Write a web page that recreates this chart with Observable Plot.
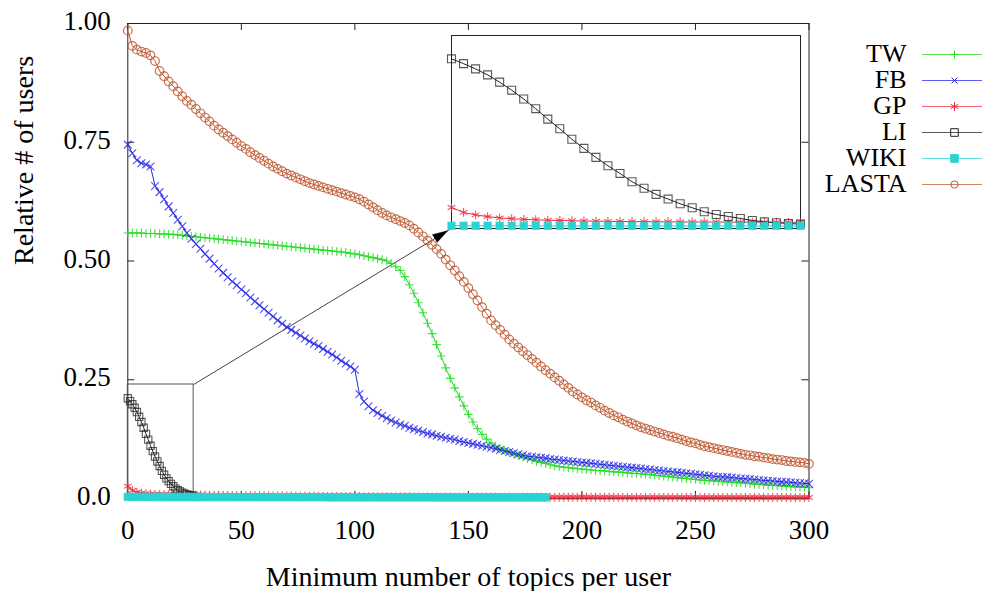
<!DOCTYPE html>
<html>
<head>
<meta charset="utf-8">
<script src="https://cdn.jsdelivr.net/npm/d3@7"></script>
<script src="https://cdn.jsdelivr.net/npm/@observablehq/plot@0.6"></script>
<style>
  body { margin: 0; background: #fff; }
  #wrap { position: relative; width: 982px; height: 591px; overflow: hidden; background: #fff; }
  #wrap svg { position: absolute; overflow: visible; font-family: "Liberation Serif", "DejaVu Serif", "Liberation Sans", serif !important; }
  #wrap svg text, #wrap svg g { font-family: "Liberation Serif", "DejaVu Serif", "Liberation Sans", serif !important; }
</style>
</head>
<body>
<div id="wrap"></div>
<script>
// ---------------- data ----------------
const seriesNames = ["TW", "FB", "GP", "LI", "WIKI", "LASTA"];
const xTicks = [0, 50, 100, 150, 200, 250, 300];
const yTicks = [0, 0.25, 0.5, 0.75, 1];

// main series sampled every STEP topics (x = 0, 2, ..., 300)
const STEP = 2;
const lastaValues = [
  0.985,0.953,0.945,0.941,0.938,0.933,0.921,0.900,0.889,0.878,
  0.868,0.857,0.847,0.837,0.829,0.820,0.811,0.802,0.794,0.785,
  0.777,0.770,0.763,0.756,0.749,0.742,0.736,0.729,0.723,0.717,
  0.711,0.705,0.699,0.694,0.689,0.684,0.680,0.676,0.672,0.668,
  0.664,0.661,0.658,0.655,0.652,0.649,0.646,0.643,0.640,0.637,
  0.634,0.630,0.625,0.619,0.613,0.607,0.601,0.596,0.592,0.588,
  0.584,0.580,0.575,0.568,0.560,0.552,0.543,0.534,0.525,0.515,
  0.503,0.491,0.480,0.468,0.456,0.443,0.430,0.417,0.403,0.389,
  0.375,0.365,0.355,0.345,0.335,0.326,0.318,0.310,0.302,0.294,
  0.286,0.278,0.270,0.263,0.255,0.248,0.240,0.233,0.225,0.219,
  0.213,0.207,0.202,0.196,0.191,0.185,0.180,0.175,0.171,0.166,
  0.162,0.158,0.154,0.150,0.147,0.144,0.141,0.138,0.135,0.132,
  0.130,0.127,0.124,0.121,0.118,0.116,0.113,0.110,0.108,0.106,
  0.104,0.102,0.100,0.098,0.096,0.094,0.092,0.091,0.089,0.088,
  0.086,0.085,0.083,0.082,0.081,0.079,0.078,0.077,0.076,0.075,
  0.073
];
const fbValues = [
  0.745,0.727,0.712,0.706,0.703,0.699,0.658,0.645,0.630,0.615,
  0.601,0.587,0.573,0.559,0.547,0.536,0.526,0.515,0.505,0.494,
  0.484,0.475,0.466,0.457,0.449,0.440,0.432,0.423,0.415,0.407,
  0.399,0.391,0.383,0.375,0.368,0.361,0.355,0.349,0.343,0.337,
  0.331,0.326,0.321,0.315,0.309,0.303,0.297,0.290,0.284,0.278,
  0.271,0.220,0.204,0.194,0.186,0.180,0.174,0.169,0.164,0.160,
  0.156,0.153,0.149,0.146,0.143,0.140,0.137,0.135,0.132,0.130,
  0.128,0.126,0.124,0.121,0.119,0.117,0.115,0.113,0.111,0.109,
  0.107,0.105,0.102,0.100,0.098,0.096,0.093,0.091,0.089,0.088,
  0.087,0.086,0.085,0.083,0.082,0.081,0.080,0.079,0.078,0.077,
  0.076,0.075,0.074,0.073,0.072,0.071,0.070,0.069,0.068,0.067,
  0.066,0.065,0.064,0.063,0.062,0.061,0.060,0.059,0.058,0.057,
  0.056,0.055,0.054,0.053,0.052,0.051,0.050,0.049,0.048,0.047,
  0.046,0.0455,0.045,0.044,0.043,0.042,0.0415,0.041,0.040,0.039,
  0.038,0.0375,0.037,0.036,0.035,0.0345,0.034,0.033,0.0325,0.032,
  0.031
];
const twValues = [
  0.559,0.559,0.559,0.559,0.558,0.558,0.558,0.557,0.557,0.556,
  0.556,0.555,0.554,0.553,0.552,0.551,0.550,0.549,0.548,0.547,
  0.546,0.545,0.544,0.543,0.542,0.541,0.540,0.539,0.538,0.537,
  0.536,0.535,0.534,0.533,0.532,0.531,0.530,0.529,0.528,0.527,
  0.526,0.525,0.524,0.523,0.522,0.521,0.520,0.519,0.518,0.516,
  0.515,0.513,0.511,0.509,0.507,0.505,0.503,0.500,0.495,0.488,
  0.480,0.467,0.450,0.432,0.412,0.391,0.369,0.347,0.324,0.300,
  0.275,0.253,0.233,0.214,0.195,0.177,0.161,0.147,0.135,0.125,
  0.117,0.110,0.105,0.101,0.097,0.093,0.090,0.087,0.084,0.081,
  0.078,0.076,0.074,0.071,0.069,0.067,0.066,0.065,0.064,0.063,
  0.062,0.061,0.060,0.059,0.0585,0.058,0.057,0.056,0.0555,0.055,
  0.054,0.053,0.0525,0.052,0.051,0.050,0.049,0.048,0.047,0.046,
  0.045,0.044,0.043,0.042,0.041,0.040,0.039,0.038,0.0375,0.037,
  0.036,0.0355,0.035,0.034,0.0335,0.033,0.032,0.031,0.030,0.0295,
  0.029,0.028,0.0275,0.027,0.0265,0.026,0.025,0.0245,0.024,0.0235,
  0.023
];
const gpValues = [
  0.0260,0.0170,0.0132,0.0114,0.0103,0.0096,0.0091,0.0087,0.0085,0.0083,
  0.0081,0.0080,0.0079,0.0078,0.0077,0.0075,0.0074,0.0072,0.0071,0.0069,
  0.0068,0.0067,0.0065,0.0064,0.0063,0.0062,0.0061,0.0060,0.0059,0.0058,
  0.0057,0.0056,0.0055,0.0054,0.0053,0.0052,0.0051,0.0050,0.0050,0.0049,
  0.0048,0.0047,0.0047,0.0046,0.0045,0.0045,0.0044,0.0043,0.0043,0.0042,
  0.0042,0.0041,0.0040,0.0040,0.0039,0.0039,0.0038,0.0038,0.0037,0.0037,
  0.0036,0.0036,0.0036,0.0035,0.0035,0.0034,0.0034,0.0034,0.0033,0.0033,
  0.0033,0.0032,0.0032,0.0032,0.0031,0.0031,0.0031,0.0031,0.0030,0.0030,
  0.0030,0.0030,0.0029,0.0029,0.0029,0.0029,0.0028,0.0028,0.0028,0.0028,
  0.0028,0.0027,0.0027,0.0027,0.0027,0.0027,0.0026,0.0026,0.0026,0.0026,
  0.0026,0.0026,0.0025,0.0025,0.0025,0.0025,0.0025,0.0025,0.0024,0.0024,
  0.0024,0.0024,0.0024,0.0024,0.0024,0.0023,0.0023,0.0023,0.0023,0.0023,
  0.0023,0.0023,0.0023,0.0022,0.0022,0.0022,0.0022,0.0022,0.0022,0.0022,
  0.0022,0.0022,0.0022,0.0021,0.0021,0.0021,0.0021,0.0021,0.0021,0.0021,
  0.0021,0.0021,0.0021,0.0021,0.0020,0.0020,0.0020,0.0020,0.0020,0.0020,
  0.0020
];
const wikiValues = [ // x = 0 .. 184
  0.0034,0.0034,0.0033,0.0033,0.0033,0.0033,0.0032,0.0032,0.0032,0.0032,
  0.0032,0.0031,0.0031,0.0031,0.0031,0.0031,0.0031,0.0030,0.0030,0.0030,
  0.0030,0.0030,0.0030,0.0030,0.0029,0.0029,0.0029,0.0029,0.0029,0.0029,
  0.0029,0.0029,0.0029,0.0028,0.0028,0.0028,0.0028,0.0028,0.0028,0.0028,
  0.0028,0.0028,0.0028,0.0028,0.0027,0.0027,0.0027,0.0027,0.0027,0.0027,
  0.0027,0.0027,0.0027,0.0027,0.0027,0.0027,0.0026,0.0026,0.0026,0.0026,
  0.0026,0.0026,0.0026,0.0026,0.0026,0.0026,0.0026,0.0026,0.0026,0.0026,
  0.0025,0.0025,0.0025,0.0025,0.0025,0.0025,0.0025,0.0025,0.0025,0.0025,
  0.0025,0.0025,0.0025,0.0025,0.0025,0.0025,0.0025,0.0025,0.0025,0.0025,
  0.0025,0.0025,0.0025
];
// zoomed inset, one value per topic count (x = 0 .. 29)
const liValues = [
  0.211,0.205,0.1985,0.191,0.182,0.172,0.161,0.149,0.136,0.124,
  0.111,0.0996,0.0884,0.078,0.0685,0.0582,0.050,0.0424,0.0366,0.0308,
  0.0258,0.0208,0.0174,0.015,0.0125,0.010,0.0083,0.0071,0.0062,0.0055
];
const gpInsetValues = [
  0.0262,0.0200,0.0170,0.0148,0.0132,0.0122,0.0114,0.0108,0.0103,0.0099,
  0.0096,0.0093,0.0091,0.0089,0.0087,0.0086,0.0085,0.0084,0.0083,0.0082,
  0.0081,0.0081,0.0080,0.0080,0.0079,0.0079,0.0078,0.0078,0.0077,0.0077
];
const wikiInsetValues = [
  0.0034,0.0034,0.0034,0.0034,0.0034,0.0034,0.0034,0.0034,0.0033,0.0033,
  0.0033,0.0033,0.0033,0.0033,0.0033,0.0033,0.0033,0.0033,0.0033,0.0033,
  0.0032,0.0032,0.0032,0.0032,0.0032,0.0032,0.0032,0.0032,0.0032,0.0032
];
// zoom window (data units) and where the inset is placed (main-plot data units)
const zoomX = [0, 29], zoomY = [0, 0.24];
const insetPlace = { x: [142.7, 296.5], y: [0.569, 0.975] };

// ---------------- styles ----------------
const colors = { TW: "#22dd22", FB: "#2626e6", GP: "#ee2a3c", LI: "#222222", WIKI: "#2ad3d3", LASTA: "#c05830" };
const symbols = { TW: "plus", FB: "times", GP: "asterisk", LI: "square", WIKI: "square", LASTA: "circle" };
const W = 982, H = 591, ML = 127.3, MR = 173.5, MT = 23, MB = 93;
const TICK = 7;
const FONT = "Liberation Serif, DejaVu Serif, Liberation Sans, serif";
const frameW = W - ML - MR, frameH = H - MT - MB;

const pts = (values, step) => values.map((y, i) => ({ x: i * step, y }));

function seriesMarks(name, data, r, markerOpacity, sw = 1.1) {
  const c = colors[name];
  const filled = name === "WIKI";
  return [
    Plot.line(data, { x: "x", y: "y", stroke: c, strokeWidth: 1 }),
    Plot.dot(data, {
      x: "x", y: "y", symbol: symbols[name], r,
      stroke: c, strokeWidth: sw, strokeOpacity: markerOpacity,
      fill: filled ? c : "none"
    })
  ];
}

const fmtY = d => d === 0 ? "0.0" : d.toFixed(2);

// scales for geometry of annotations
const sx = Plot.scale({ x: { domain: [0, 300], range: [ML, W - MR] } });
const sy = Plot.scale({ y: { domain: [0, 1], range: [H - MB, MT] } });
const p0x = sx.apply(zoomX[1]), p0y = sy.apply(zoomY[1]);
const p1x = sx.apply(insetPlace.x[0]), p1y = sy.apply(insetPlace.y[0]);
const ang = Math.atan2(p1x - p0x, -(p1y - p0y)) * 180 / Math.PI;
const dlen = Math.hypot(p1x - p0x, p1y - p0y);
const backOff = 5;
const tipDx = -(p1x - p0x) / dlen * backOff, tipDy = -(p1y - p0y) / dlen * backOff;

const main = Plot.plot({
  width: W, height: H,
  marginLeft: ML, marginRight: MR, marginTop: MT, marginBottom: MB,
  x: { domain: [0, 300] },
  y: { domain: [0, 1] },
  style: { fontFamily: FONT, fontSize: "27px", color: "#000", background: "transparent", overflow: "visible" },
  marks: [
    Plot.frame({ stroke: "#222", strokeWidth: 1 }),
    Plot.tickX(xTicks, { x: d => d, insetTop: frameH - TICK, stroke: "#222" }),
    Plot.tickX(xTicks, { x: d => d, insetBottom: frameH - TICK, stroke: "#222" }),
    Plot.tickY(yTicks, { y: d => d, insetRight: frameW - TICK, stroke: "#222" }),
    Plot.tickY(yTicks, { y: d => d, insetLeft: frameW - TICK, stroke: "#222" }),
    Plot.axisX({ ticks: xTicks, tickSize: 0, tickPadding: 21, label: null, fontFamily: FONT }),
    Plot.axisY({ ticks: yTicks, tickSize: 0, tickPadding: 17, tickFormat: fmtY, label: null, dy: -2, fontFamily: FONT }),
    Plot.text(["Minimum number of topics per user"], { text: d => d, frameAnchor: "bottom", dy: 79, lineAnchor: "middle", fontSize: 28, fontFamily: FONT }),
    Plot.text(["Relative # of users"], { text: d => d, frameAnchor: "left", dx: -104, dy: 4, rotate: -90, lineAnchor: "middle", fontSize: 28, fontFamily: FONT }),
    // zoom window + arrow to inset
    Plot.rect([0], { x1: () => zoomX[0], x2: () => zoomX[1], y1: () => zoomY[0], y2: () => zoomY[1], fill: "none", stroke: "#555", strokeWidth: 1 }),
    Plot.link([0], { x1: () => zoomX[1], y1: () => zoomY[1], x2: () => insetPlace.x[0], y2: () => insetPlace.y[0], stroke: "#444", strokeWidth: 1 }),
    Plot.vector([0], { x: () => insetPlace.x[0], y: () => insetPlace.y[0], dx: tipDx, dy: tipDy, length: 15, rotate: ang, anchor: "end", shape: "spike", r: 4.5, fill: "#000", stroke: "#000", strokeWidth: 0.5 }),
    // series in gnuplot order
    ...seriesMarks("TW", pts(twValues, STEP), 2.9, 0.85),
    ...seriesMarks("FB", pts(fbValues, STEP), 3.6, 0.8),
    ...seriesMarks("GP", pts(gpValues, STEP), 4.2, 0.8),
    ...seriesMarks("LI", pts(liValues, 1), 4.1, 0.75),
    ...seriesMarks("WIKI", pts(wikiValues, STEP), 4.1, 0.7),
    ...seriesMarks("LASTA", pts(lastaValues, STEP), 4.3, 0.85, 1.2)
  ]
});
main.style.left = "0px";
main.style.top = "0px";

// ---------------- inset ----------------
const X = main.scale("x"), Y = main.scale("y");
const iLeft = X.apply(insetPlace.x[0]), iRight = X.apply(insetPlace.x[1]);
const iTop = Y.apply(insetPlace.y[1]), iBottom = Y.apply(insetPlace.y[0]);
const inset = Plot.plot({
  width: Math.round(iRight - iLeft), height: Math.round(iBottom - iTop),
  margin: 0,
  axis: null,
  x: { domain: zoomX },
  y: { domain: zoomY },
  style: { fontFamily: FONT, background: "transparent", overflow: "visible" },
  marks: [
    Plot.frame({ stroke: "#222", strokeWidth: 1 }),
    ...seriesMarks("GP", pts(gpInsetValues, 1), 4.2, 0.8),
    ...seriesMarks("LI", pts(liValues, 1), 4.5, 0.75),
    ...seriesMarks("WIKI", pts(wikiInsetValues, 1), 4.1, 0.7)
  ]
});
inset.style.left = Math.round(iLeft) + "px";
inset.style.top = Math.round(iTop) + "px";

// ---------------- legend ----------------
const legendR = { TW: 2.7, FB: 2.8, GP: 4.2, LI: 4.3, WIKI: 4.3, LASTA: 3.6 };
const legendMarks = [
  Plot.text(seriesNames, { x: () => 86, y: d => d, text: d => d, textAnchor: "end", lineAnchor: "middle", dy: -1, fontFamily: FONT })
];
for (const name of seriesNames) {
  legendMarks.push(
    Plot.ruleY([name], { y: d => d, x1: () => 102, x2: () => 170, stroke: colors[name], strokeWidth: 1, strokeOpacity: 0.75 }),
    Plot.dot([name], { x: () => 134, y: d => d, symbol: symbols[name], r: legendR[name], stroke: colors[name], strokeWidth: 1,
      fill: name === "WIKI" ? colors[name] : "none" })
  );
}
const legend = Plot.plot({
  width: 162, height: 230, margin: 0,
  axis: null,
  x: { type: "identity" },
  y: { type: "point", domain: seriesNames, range: [38, 199] },
  style: { fontFamily: FONT, fontSize: "26px", color: "#000", background: "transparent", overflow: "visible" },
  marks: legendMarks
});
legend.style.left = "820px";
legend.style.top = "0px";

const wrap = document.getElementById("wrap");
wrap.appendChild(main);
wrap.appendChild(inset);
wrap.appendChild(legend);
</script>
</body>
</html>
